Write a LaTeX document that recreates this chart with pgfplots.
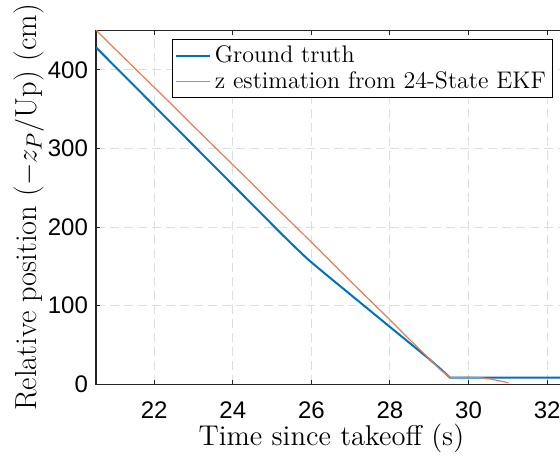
\documentclass[border=0pt]{standalone}
\usepackage{pgfplots}
\pgfplotsset{compat=1.18}
\usepackage{fontspec}
\newfontfamily\helv{Liberation Sans}

\definecolor{mblue}{rgb}{0,0.447,0.741}
\definecolor{morange}{rgb}{0.85,0.325,0.098}

\begin{document}
\begin{tikzpicture}
\begin{axis}[
    scale only axis,
    width=235.4pt, height=176.8pt,
    xmin=20.52, xmax=32.5, ymin=0, ymax=450,
    xtick={22,24,...,32}, ytick={0,100,...,400},
    tick align=inside, major tick length=2pt,
    tick style={color=black!85, line width=0.5pt},
    axis line style={color=black!85, line width=0.5pt},
    grid=major,
    major grid style={dashed, dash pattern=on 4.5pt off 2.5pt, color=black!13, line width=0.5pt},
    /pgf/number format/assume math mode=true,
    xticklabel={\pgfmathprintnumber{\tick}},
    yticklabel={\pgfmathprintnumber{\tick}},
    ticklabel style={font=\helv\fontsize{12}{14}\selectfont},
    xticklabel style={yshift=-5pt},
    yticklabel style={xshift=-0.5pt},
    xlabel={Time since takeoff (s)},
    ylabel={Relative position ($-z_P/$Up) (cm)},
    label style={font=\fontsize{14.3}{16}\selectfont},
    xlabel style={yshift=4pt},
    ylabel style={font=\fontsize{15.2}{17}\selectfont, yshift=-5pt},
    legend style={at={(0.162,0.9757)}, anchor=north west, draw=black, line width=0.4pt,
        fill=white, font=\fontsize{12}{14}\selectfont, inner sep=1pt, row sep=-1pt},
    legend cell align=left,
]
\addplot[mblue, line width=1pt] coordinates {
(20.52,428.8) (21.0,404.7) (21.5,379.6) (22.0,354.4) (22.5,329.3) (23.0,304.1)
(23.5,279.0) (24.0,253.8) (24.5,228.7) (25.0,203.5) (25.3,188.5) (25.6,173.8)
(25.9,159.6) (26.2,146.9) (26.5,134.5) (27.0,114.0) (27.5,93.5) (28.0,73.0)
(28.5,52.6) (29.0,32.2) (29.3,19.0) (29.53,8.4) (30.0,8.4) (31.0,8.4) (32.5,8.4)
};
\addlegendentry{Ground truth}
\addplot[morange!75!white, line width=0.6pt] coordinates {
(20.52,451) (21.0,427) (21.5,402.5) (22.0,378) (22.5,353.5) (23.0,328.5)
(23.5,304) (24.0,279.5) (24.5,255) (25.0,230) (25.5,205.5) (26.0,181)
(26.5,156) (27.0,131) (27.5,106.5) (28.0,82) (28.5,57) (29.0,32.5)
(29.3,18) (29.53,8.5) (29.8,8.8) (30.0,9.0) (30.3,8.4) (30.55,6.8)
(30.8,4.2) (31.02,2.0)
};
\addlegendentry{z estimation from 24-State EKF}
\end{axis}
\pgfresetboundingbox
\path[use as bounding box] ([shift={(-48pt,-36.35pt)}]current axis.south west)
    rectangle ([shift={(232pt,192.15pt)}]current axis.south west);
\end{tikzpicture}
\end{document}
